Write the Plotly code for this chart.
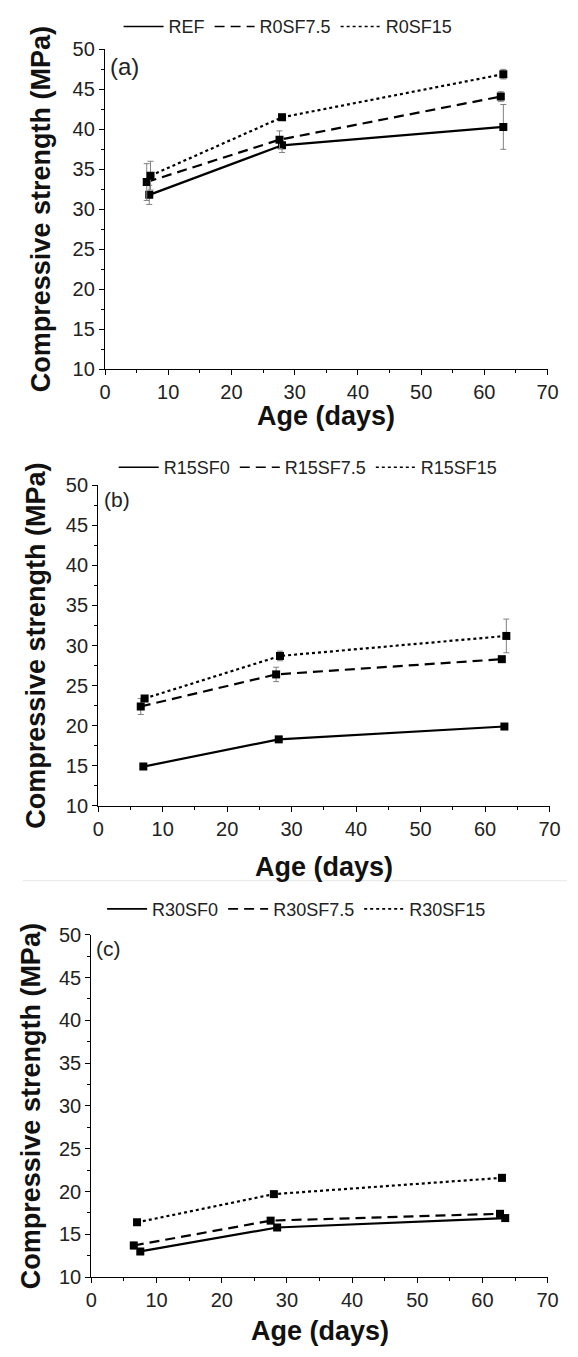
import plotly.graph_objects as go

W, H = 578, 1357
FONT = "Liberation Sans, Arial, sans-serif"

# ---------------- data ----------------
# Panel (a)
age_a_ref = [7.0, 28.0, 63.0]
age_a_75 = [6.6, 27.6, 62.6]
age_a_15 = [7.2, 28.0, 63.0]
ref_a = [31.8, 38.0, 40.3]
ref_a_err = [1.2, 0.9, 2.8]
r0sf75 = [33.4, 38.7, 44.1]
r0sf75_err = [2.3, 1.1, 0.6]
r0sf15 = [34.2, 41.5, 46.9]
r0sf15_err = [1.8, 0.4, 0.6]

# Panel (b)
age_b_0 = [7.0, 28.0, 63.0]
age_b_75 = [6.6, 27.6, 62.6]
age_b_15 = [7.2, 28.2, 63.3]
r15sf0 = [14.9, 18.3, 19.9]
r15sf0_err = [0.2, 0.2, 0.2]
r15sf75 = [22.4, 26.4, 28.3]
r15sf75_err = [1.0, 0.9, 0.2]
r15sf15 = [23.4, 28.7, 31.2]
r15sf15_err = [0.3, 0.6, 2.1]

# Panel (c)
age_c_0 = [7.5, 28.5, 63.5]
age_c_75 = [6.5, 27.5, 62.7]
age_c_15 = [7.0, 28.0, 63.0]
r30sf0 = [13.0, 15.8, 16.9]
r30sf0_err = [0.2, 0.2, 0.2]
r30sf75 = [13.7, 16.6, 17.4]
r30sf75_err = [0.4, 0.2, 0.2]
r30sf15 = [16.4, 19.7, 21.6]
r30sf15_err = [0.3, 0.2, 0.4]

x_ticks = [0, 10, 20, 30, 40, 50, 60, 70]
y_ticks = [10, 15, 20, 25, 30, 35, 40, 45, 50]

panels = [
    dict(letter="(a)", names=["REF", "R0SF7.5", "R0SF15"],
         ages=[age_a_ref, age_a_75, age_a_15],
         vals=[ref_a, r0sf75, r0sf15], errs=[ref_a_err, r0sf75_err, r0sf15_err]),
    dict(letter="(b)", names=["R15SF0", "R15SF7.5", "R15SF15"],
         ages=[age_b_0, age_b_75, age_b_15],
         vals=[r15sf0, r15sf75, r15sf15], errs=[r15sf0_err, r15sf75_err, r15sf15_err]),
    dict(letter="(c)", names=["R30SF0", "R30SF7.5", "R30SF15"],
         ages=[age_c_0, age_c_75, age_c_15],
         vals=[r30sf0, r30sf75, r30sf15], errs=[r30sf0_err, r30sf75_err, r30sf15_err]),
]

# ---------------- layout geometry (pixels) ----------------
geom = [
    dict(x0=102, x1=558, top=39, bot=364, leg_x=116, leg_y=16, let_x=105, let_y=56, let_size=24,
         ytit_x=36, xtit_y=412),
    dict(x0=95, x1=560, top=482, bot=808, leg_x=111, leg_y=464, let_x=99, let_y=497, let_size=21,
         ytit_x=30, xtit_y=870),
    dict(x0=88, x1=558, top=939, bot=1287, leg_x=99, leg_y=913, let_x=91, let_y=953, let_size=21,
         ytit_x=26, xtit_y=1342),
]

dashes = ["solid", "10px,6px", "3px,3px"]

fig = go.Figure()
annotations = []
layout = dict()

for i, (p, g) in enumerate(zip(panels, geom)):
    n = i + 1
    xa = "x" if n == 1 else f"x{n}"
    ya = "y" if n == 1 else f"y{n}"
    leg = "legend" if n == 1 else f"legend{n}"
    for k in range(3):
        fig.add_trace(go.Scatter(
            x=p["ages"][k], y=p["vals"][k], mode="lines+markers",
            xaxis=xa, yaxis=ya, showlegend=False,
            line=dict(color="black", width=2.2, dash=dashes[k]),
            marker=dict(symbol="square", size=8, color="black"),
            error_y=dict(type="data", array=p["errs"][k], visible=True,
                         color="#808080", thickness=1, width=3),
        ))
    for k in range(3):
        fig.add_trace(go.Scatter(
            x=[None], y=[None], mode="lines", name=p["names"][k],
            xaxis=xa, yaxis=ya, legend=leg, showlegend=True,
            line=dict(color="black", width=1.6, dash=dashes[k]),
        ))
    axcommon = dict(showline=True, linecolor="black", linewidth=1.3, showgrid=False,
                    zeroline=False, ticks="outside", ticklen=5, tickwidth=1.2,
                    tickcolor="black", tickfont=dict(family=FONT, size=20, color="#222"))
    layout["xaxis" if n == 1 else f"xaxis{n}"] = dict(
        axcommon, domain=[g["x0"] / W, g["x1"] / W], range=[0, 70],
        tickvals=x_ticks, anchor=ya,
        minor=dict(dtick=5, tick0=0, ticks="outside", ticklen=3, tickcolor="black"))
    layout["yaxis" if n == 1 else f"yaxis{n}"] = dict(
        axcommon, domain=[1 - g["bot"] / H, 1 - g["top"] / H], range=[10, 50],
        tickvals=y_ticks, anchor=xa,
        minor=dict(dtick=2.5, tick0=10, ticks="outside", ticklen=3, tickcolor="black"))
    layout[leg] = dict(orientation="h", x=g["leg_x"] / W, y=1 - g["leg_y"] / H,
                       xanchor="left", yanchor="middle", itemwidth=40,
                       font=dict(family=FONT, size=18, color="#222"),
                       bgcolor="rgba(0,0,0,0)")
    annotations.append(dict(text=p["letter"], x=g["let_x"] / W, y=1 - g["let_y"] / H,
                            xref="paper", yref="paper", xanchor="left", yanchor="middle",
                            showarrow=False, font=dict(family=FONT, size=g["let_size"], color="#222")))
    annotations.append(dict(text="<b>Compressive strength (MPa)</b>", textangle=-90,
                            x=g["ytit_x"] / W, y=1 - (g["top"] + g["bot"]) / 2 / H,
                            xref="paper", yref="paper", xanchor="center", yanchor="middle",
                            showarrow=False, font=dict(family=FONT, size=27, color="#111")))
    annotations.append(dict(text="<b>Age (days)</b>",
                            x=(g["x0"] + g["x1"]) / 2 / W, y=1 - g["xtit_y"] / H,
                            xref="paper", yref="paper", xanchor="center", yanchor="middle",
                            showarrow=False, font=dict(family=FONT, size=27, color="#111")))

fig.update_layout(
    width=W, height=H, margin=dict(l=0, r=0, t=0, b=0),
    paper_bgcolor="white", plot_bgcolor="white",
    annotations=annotations,
    shapes=[dict(type="line", xref="paper", yref="paper", x0=0.03, x1=1,
                 y0=1 - 884 / H, y1=1 - 884 / H, line=dict(color="#e6e6e6", width=1))],
    **layout,
)

fig.write_html("out.html", config={"displayModeBar": False},
               post_script="document.body.style.margin='0';")
